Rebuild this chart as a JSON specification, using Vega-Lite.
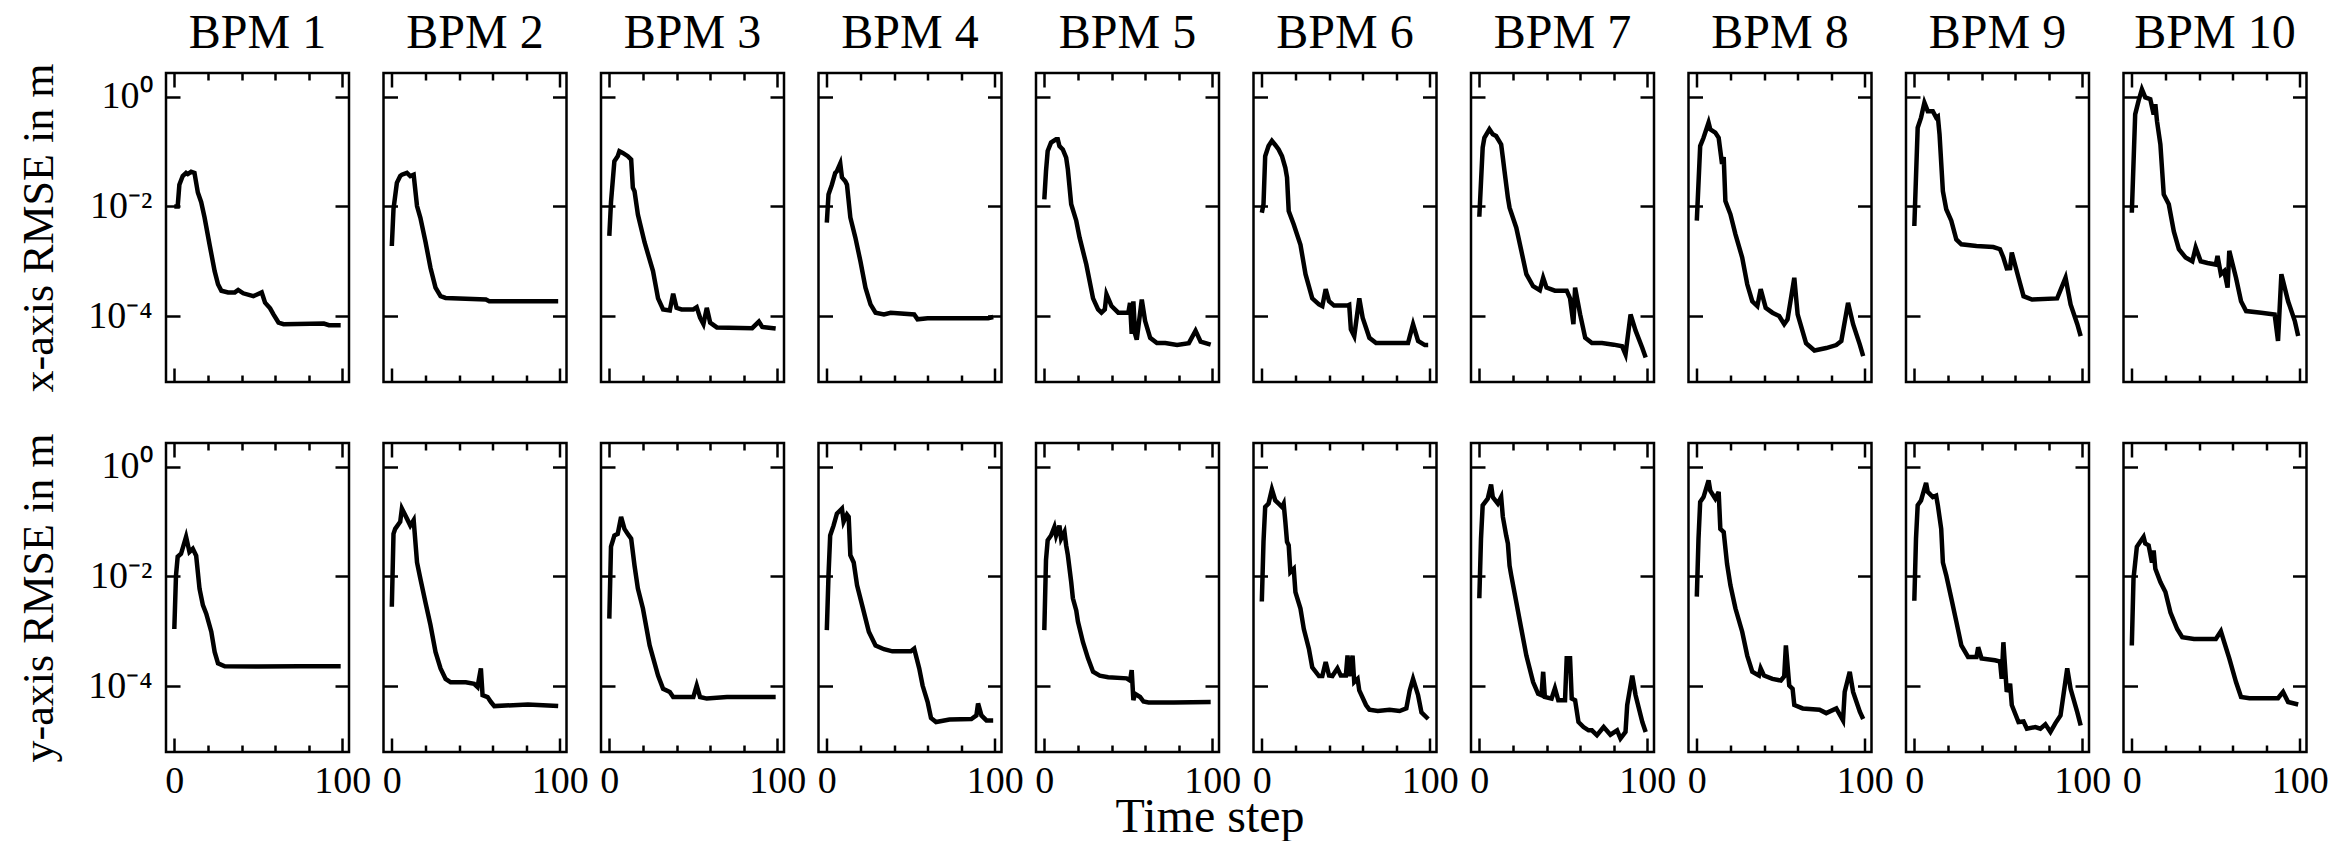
{
"$schema": "https://vega.github.io/schema/vega-lite/v6.json",
"padding": {"left": 16, "top": 8, "right": 0, "bottom": 0},
"background": "white",
"title": {"text": "Time step", "orient": "bottom", "anchor": "middle", "baseline": "alphabetic", "offset": 24, "dx": 37, "fontSize": 48, "frame": "bounds"},
"data": {"values": [
{"axis":"x","bpm":1,"step":0,"rmse":0.01},{"axis":"x","bpm":1,"step":2,"rmse":0.01},{"axis":"x","bpm":1,"step":3,"rmse":0.025},{"axis":"x","bpm":1,"step":5,"rmse":0.036},{"axis":"x","bpm":1,"step":7,"rmse":0.041},{"axis":"x","bpm":1,"step":8,"rmse":0.039},{"axis":"x","bpm":1,"step":10,"rmse":0.043},{"axis":"x","bpm":1,"step":12,"rmse":0.041},{"axis":"x","bpm":1,"step":14,"rmse":0.018},{"axis":"x","bpm":1,"step":16,"rmse":0.012},{"axis":"x","bpm":1,"step":18,"rmse":0.0063},{"axis":"x","bpm":1,"step":21,"rmse":0.002},{"axis":"x","bpm":1,"step":24,"rmse":0.00066},{"axis":"x","bpm":1,"step":26,"rmse":0.00038},{"axis":"x","bpm":1,"step":28,"rmse":0.00029},{"axis":"x","bpm":1,"step":32,"rmse":0.00027},{"axis":"x","bpm":1,"step":36,"rmse":0.00027},{"axis":"x","bpm":1,"step":38,"rmse":0.0003},{"axis":"x","bpm":1,"step":41,"rmse":0.00026},{"axis":"x","bpm":1,"step":47,"rmse":0.00023},{"axis":"x","bpm":1,"step":52,"rmse":0.00027},{"axis":"x","bpm":1,"step":54,"rmse":0.000175},{"axis":"x","bpm":1,"step":57,"rmse":0.000138},{"axis":"x","bpm":1,"step":59,"rmse":0.000107},{"axis":"x","bpm":1,"step":62,"rmse":0.000076},{"axis":"x","bpm":1,"step":65,"rmse":0.000071},{"axis":"x","bpm":1,"step":89,"rmse":0.000073},{"axis":"x","bpm":1,"step":92,"rmse":0.000068},{"axis":"x","bpm":1,"step":99,"rmse":0.000068},
{"axis":"x","bpm":2,"step":0,"rmse":0.0019},{"axis":"x","bpm":2,"step":1,"rmse":0.009},{"axis":"x","bpm":2,"step":3,"rmse":0.027},{"axis":"x","bpm":2,"step":5,"rmse":0.036},{"axis":"x","bpm":2,"step":6,"rmse":0.038},{"axis":"x","bpm":2,"step":9,"rmse":0.041},{"axis":"x","bpm":2,"step":11,"rmse":0.036},{"axis":"x","bpm":2,"step":13,"rmse":0.038},{"axis":"x","bpm":2,"step":15,"rmse":0.0102},{"axis":"x","bpm":2,"step":17,"rmse":0.0062},{"axis":"x","bpm":2,"step":20,"rmse":0.0023},{"axis":"x","bpm":2,"step":23,"rmse":0.00076},{"axis":"x","bpm":2,"step":26,"rmse":0.00033},{"axis":"x","bpm":2,"step":29,"rmse":0.00023},{"axis":"x","bpm":2,"step":32,"rmse":0.000214},{"axis":"x","bpm":2,"step":56,"rmse":0.0002},{"axis":"x","bpm":2,"step":58,"rmse":0.000186},{"axis":"x","bpm":2,"step":99,"rmse":0.000186},
{"axis":"x","bpm":3,"step":0,"rmse":0.0029},{"axis":"x","bpm":3,"step":1,"rmse":0.012},{"axis":"x","bpm":3,"step":3,"rmse":0.067},{"axis":"x","bpm":3,"step":5,"rmse":0.083},{"axis":"x","bpm":3,"step":6,"rmse":0.102},{"axis":"x","bpm":3,"step":8,"rmse":0.095},{"axis":"x","bpm":3,"step":11,"rmse":0.083},{"axis":"x","bpm":3,"step":13,"rmse":0.072},{"axis":"x","bpm":3,"step":14,"rmse":0.022},{"axis":"x","bpm":3,"step":15,"rmse":0.019},{"axis":"x","bpm":3,"step":17,"rmse":0.0071},{"axis":"x","bpm":3,"step":21,"rmse":0.0022},{"axis":"x","bpm":3,"step":26,"rmse":0.00066},{"axis":"x","bpm":3,"step":29,"rmse":0.00021},{"axis":"x","bpm":3,"step":32,"rmse":0.000132},{"axis":"x","bpm":3,"step":36,"rmse":0.000126},{"axis":"x","bpm":3,"step":38,"rmse":0.000256},{"axis":"x","bpm":3,"step":40,"rmse":0.000141},{"axis":"x","bpm":3,"step":43,"rmse":0.000132},{"axis":"x","bpm":3,"step":50,"rmse":0.000132},{"axis":"x","bpm":3,"step":52,"rmse":0.000145},{"axis":"x","bpm":3,"step":54,"rmse":0.000093},{"axis":"x","bpm":3,"step":56,"rmse":0.000071},{"axis":"x","bpm":3,"step":58,"rmse":0.000141},{"axis":"x","bpm":3,"step":60,"rmse":0.000076},{"axis":"x","bpm":3,"step":64,"rmse":0.000062},{"axis":"x","bpm":3,"step":85,"rmse":0.00006},{"axis":"x","bpm":3,"step":89,"rmse":0.000079},{"axis":"x","bpm":3,"step":91,"rmse":0.000063},{"axis":"x","bpm":3,"step":99,"rmse":0.000059},
{"axis":"x","bpm":4,"step":0,"rmse":0.0051},{"axis":"x","bpm":4,"step":1,"rmse":0.0166},{"axis":"x","bpm":4,"step":3,"rmse":0.025},{"axis":"x","bpm":4,"step":5,"rmse":0.041},{"axis":"x","bpm":4,"step":6,"rmse":0.044},{"axis":"x","bpm":4,"step":8,"rmse":0.061},{"axis":"x","bpm":4,"step":9,"rmse":0.034},{"axis":"x","bpm":4,"step":11,"rmse":0.029},{"axis":"x","bpm":4,"step":12,"rmse":0.025},{"axis":"x","bpm":4,"step":14,"rmse":0.0063},{"axis":"x","bpm":4,"step":17,"rmse":0.0027},{"axis":"x","bpm":4,"step":20,"rmse":0.001},{"axis":"x","bpm":4,"step":23,"rmse":0.00033},{"axis":"x","bpm":4,"step":26,"rmse":0.000163},{"axis":"x","bpm":4,"step":29,"rmse":0.000115},{"axis":"x","bpm":4,"step":34,"rmse":0.000107},{"axis":"x","bpm":4,"step":38,"rmse":0.000115},{"axis":"x","bpm":4,"step":52,"rmse":0.000107},{"axis":"x","bpm":4,"step":54,"rmse":0.000087},{"axis":"x","bpm":4,"step":60,"rmse":0.000091},{"axis":"x","bpm":4,"step":96,"rmse":0.000091},{"axis":"x","bpm":4,"step":99,"rmse":0.000096},
{"axis":"x","bpm":5,"step":0,"rmse":0.0135},{"axis":"x","bpm":5,"step":1,"rmse":0.044},{"axis":"x","bpm":5,"step":2,"rmse":0.103},{"axis":"x","bpm":5,"step":4,"rmse":0.147},{"axis":"x","bpm":5,"step":7,"rmse":0.169},{"axis":"x","bpm":5,"step":8,"rmse":0.169},{"axis":"x","bpm":5,"step":9,"rmse":0.127},{"axis":"x","bpm":5,"step":11,"rmse":0.11},{"axis":"x","bpm":5,"step":13,"rmse":0.078},{"axis":"x","bpm":5,"step":14,"rmse":0.048},{"axis":"x","bpm":5,"step":16,"rmse":0.011},{"axis":"x","bpm":5,"step":19,"rmse":0.0055},{"axis":"x","bpm":5,"step":21,"rmse":0.0027},{"axis":"x","bpm":5,"step":25,"rmse":0.00087},{"axis":"x","bpm":5,"step":29,"rmse":0.00021},{"axis":"x","bpm":5,"step":32,"rmse":0.000132},{"axis":"x","bpm":5,"step":34,"rmse":0.000115},{"axis":"x","bpm":5,"step":36,"rmse":0.000132},{"axis":"x","bpm":5,"step":37,"rmse":0.00025},{"axis":"x","bpm":5,"step":40,"rmse":0.000152},{"axis":"x","bpm":5,"step":44,"rmse":0.000115},{"axis":"x","bpm":5,"step":50,"rmse":0.000115},{"axis":"x","bpm":5,"step":51,"rmse":0.000174},{"axis":"x","bpm":5,"step":52,"rmse":0.000047},{"axis":"x","bpm":5,"step":53,"rmse":0.000186},{"axis":"x","bpm":5,"step":54,"rmse":0.000047},{"axis":"x","bpm":5,"step":55,"rmse":0.000037},{"axis":"x","bpm":5,"step":58,"rmse":0.0002},{"axis":"x","bpm":5,"step":60,"rmse":0.000081},{"axis":"x","bpm":5,"step":63,"rmse":0.00004},{"axis":"x","bpm":5,"step":67,"rmse":0.000032},{"axis":"x","bpm":5,"step":72,"rmse":0.000032},{"axis":"x","bpm":5,"step":79,"rmse":0.0000295},{"axis":"x","bpm":5,"step":86,"rmse":0.000032},{"axis":"x","bpm":5,"step":90,"rmse":0.000054},{"axis":"x","bpm":5,"step":93,"rmse":0.000034},{"axis":"x","bpm":5,"step":99,"rmse":0.00003},
{"axis":"x","bpm":6,"step":0,"rmse":0.0077},{"axis":"x","bpm":6,"step":1,"rmse":0.011},{"axis":"x","bpm":6,"step":2,"rmse":0.083},{"axis":"x","bpm":6,"step":4,"rmse":0.127},{"axis":"x","bpm":6,"step":6,"rmse":0.158},{"axis":"x","bpm":6,"step":8,"rmse":0.133},{"axis":"x","bpm":6,"step":10,"rmse":0.11},{"axis":"x","bpm":6,"step":12,"rmse":0.083},{"axis":"x","bpm":6,"step":14,"rmse":0.051},{"axis":"x","bpm":6,"step":15,"rmse":0.034},{"axis":"x","bpm":6,"step":16,"rmse":0.0083},{"axis":"x","bpm":6,"step":19,"rmse":0.0047},{"axis":"x","bpm":6,"step":23,"rmse":0.002},{"axis":"x","bpm":6,"step":26,"rmse":0.00058},{"axis":"x","bpm":6,"step":30,"rmse":0.00021},{"axis":"x","bpm":6,"step":34,"rmse":0.000163},{"axis":"x","bpm":6,"step":36,"rmse":0.000152},{"axis":"x","bpm":6,"step":38,"rmse":0.00031},{"axis":"x","bpm":6,"step":40,"rmse":0.000186},{"axis":"x","bpm":6,"step":43,"rmse":0.000155},{"axis":"x","bpm":6,"step":51,"rmse":0.000155},{"axis":"x","bpm":6,"step":52,"rmse":0.00016},{"axis":"x","bpm":6,"step":53,"rmse":0.000057},{"axis":"x","bpm":6,"step":55,"rmse":0.000043},{"axis":"x","bpm":6,"step":58,"rmse":0.00021},{"axis":"x","bpm":6,"step":60,"rmse":0.000093},{"axis":"x","bpm":6,"step":64,"rmse":0.00004},{"axis":"x","bpm":6,"step":68,"rmse":0.000032},{"axis":"x","bpm":6,"step":76,"rmse":0.000032},{"axis":"x","bpm":6,"step":87,"rmse":0.000032},{"axis":"x","bpm":6,"step":90,"rmse":0.000071},{"axis":"x","bpm":6,"step":93,"rmse":0.000035},{"axis":"x","bpm":6,"step":97,"rmse":0.0000295},{"axis":"x","bpm":6,"step":99,"rmse":0.0000295},
{"axis":"x","bpm":7,"step":0,"rmse":0.0065},{"axis":"x","bpm":7,"step":2,"rmse":0.119},{"axis":"x","bpm":7,"step":3,"rmse":0.18},{"axis":"x","bpm":7,"step":6,"rmse":0.257},{"axis":"x","bpm":7,"step":8,"rmse":0.209},{"axis":"x","bpm":7,"step":10,"rmse":0.194},{"axis":"x","bpm":7,"step":13,"rmse":0.136},{"axis":"x","bpm":7,"step":14,"rmse":0.078},{"axis":"x","bpm":7,"step":15,"rmse":0.044},{"axis":"x","bpm":7,"step":17,"rmse":0.0145},{"axis":"x","bpm":7,"step":18,"rmse":0.0095},{"axis":"x","bpm":7,"step":22,"rmse":0.0041},{"axis":"x","bpm":7,"step":25,"rmse":0.00155},{"axis":"x","bpm":7,"step":28,"rmse":0.00058},{"axis":"x","bpm":7,"step":32,"rmse":0.00035},{"axis":"x","bpm":7,"step":36,"rmse":0.000295},{"axis":"x","bpm":7,"step":38,"rmse":0.0005},{"axis":"x","bpm":7,"step":40,"rmse":0.00033},{"axis":"x","bpm":7,"step":45,"rmse":0.00029},{"axis":"x","bpm":7,"step":52,"rmse":0.00029},{"axis":"x","bpm":7,"step":54,"rmse":0.00021},{"axis":"x","bpm":7,"step":56,"rmse":0.000071},{"axis":"x","bpm":7,"step":57,"rmse":0.00033},{"axis":"x","bpm":7,"step":60,"rmse":0.000107},{"axis":"x","bpm":7,"step":63,"rmse":0.00004},{"axis":"x","bpm":7,"step":67,"rmse":0.000032},{"axis":"x","bpm":7,"step":73,"rmse":0.000032},{"axis":"x","bpm":7,"step":80,"rmse":0.00003},{"axis":"x","bpm":7,"step":85,"rmse":0.000028},{"axis":"x","bpm":7,"step":87,"rmse":0.00002},{"axis":"x","bpm":7,"step":90,"rmse":0.000107},{"axis":"x","bpm":7,"step":93,"rmse":0.000054},{"axis":"x","bpm":7,"step":97,"rmse":0.000026},{"axis":"x","bpm":7,"step":99,"rmse":0.0000174},
{"axis":"x","bpm":8,"step":0,"rmse":0.0055},{"axis":"x","bpm":8,"step":2,"rmse":0.127},{"axis":"x","bpm":8,"step":4,"rmse":0.18},{"axis":"x","bpm":8,"step":7,"rmse":0.34},{"axis":"x","bpm":8,"step":8,"rmse":0.257},{"axis":"x","bpm":8,"step":11,"rmse":0.224},{"axis":"x","bpm":8,"step":13,"rmse":0.18},{"axis":"x","bpm":8,"step":15,"rmse":0.06},{"axis":"x","bpm":8,"step":16,"rmse":0.08},{"axis":"x","bpm":8,"step":17,"rmse":0.0126},{"axis":"x","bpm":8,"step":20,"rmse":0.0072},{"axis":"x","bpm":8,"step":23,"rmse":0.0031},{"axis":"x","bpm":8,"step":27,"rmse":0.00117},{"axis":"x","bpm":8,"step":30,"rmse":0.00038},{"axis":"x","bpm":8,"step":33,"rmse":0.000186},{"axis":"x","bpm":8,"step":36,"rmse":0.000152},{"axis":"x","bpm":8,"step":38,"rmse":0.00031},{"axis":"x","bpm":8,"step":41,"rmse":0.000141},{"axis":"x","bpm":8,"step":45,"rmse":0.000115},{"axis":"x","bpm":8,"step":49,"rmse":0.0001},{"axis":"x","bpm":8,"step":52,"rmse":0.000071},{"axis":"x","bpm":8,"step":54,"rmse":0.000087},{"axis":"x","bpm":8,"step":58,"rmse":0.0005},{"axis":"x","bpm":8,"step":60,"rmse":0.000107},{"axis":"x","bpm":8,"step":65,"rmse":0.000032},{"axis":"x","bpm":8,"step":70,"rmse":0.0000235},{"axis":"x","bpm":8,"step":77,"rmse":0.000026},{"axis":"x","bpm":8,"step":83,"rmse":0.0000295},{"axis":"x","bpm":8,"step":86,"rmse":0.000035},{"axis":"x","bpm":8,"step":90,"rmse":0.000174},{"axis":"x","bpm":8,"step":93,"rmse":0.000071},{"axis":"x","bpm":8,"step":97,"rmse":0.00003},{"axis":"x","bpm":8,"step":99,"rmse":0.0000186},
{"axis":"x","bpm":9,"step":0,"rmse":0.0044},{"axis":"x","bpm":9,"step":2,"rmse":0.275},{"axis":"x","bpm":9,"step":4,"rmse":0.42},{"axis":"x","bpm":9,"step":6,"rmse":0.79},{"axis":"x","bpm":9,"step":8,"rmse":0.55},{"axis":"x","bpm":9,"step":11,"rmse":0.55},{"axis":"x","bpm":9,"step":13,"rmse":0.42},{"axis":"x","bpm":9,"step":14,"rmse":0.44},{"axis":"x","bpm":9,"step":15,"rmse":0.209},{"axis":"x","bpm":9,"step":17,"rmse":0.019},{"axis":"x","bpm":9,"step":19,"rmse":0.0089},{"axis":"x","bpm":9,"step":22,"rmse":0.0055},{"axis":"x","bpm":9,"step":25,"rmse":0.0025},{"axis":"x","bpm":9,"step":28,"rmse":0.00204},{"axis":"x","bpm":9,"step":37,"rmse":0.0019},{"axis":"x","bpm":9,"step":47,"rmse":0.00182},{"axis":"x","bpm":9,"step":51,"rmse":0.00166},{"axis":"x","bpm":9,"step":53,"rmse":0.00117},{"axis":"x","bpm":9,"step":55,"rmse":0.00074},{"axis":"x","bpm":9,"step":57,"rmse":0.00075},{"axis":"x","bpm":9,"step":58,"rmse":0.00144},{"axis":"x","bpm":9,"step":62,"rmse":0.0005},{"axis":"x","bpm":9,"step":65,"rmse":0.00023},{"axis":"x","bpm":9,"step":70,"rmse":0.0002},{"axis":"x","bpm":9,"step":85,"rmse":0.00021},{"axis":"x","bpm":9,"step":90,"rmse":0.0005},{"axis":"x","bpm":9,"step":93,"rmse":0.000163},{"axis":"x","bpm":9,"step":97,"rmse":0.000071},{"axis":"x","bpm":9,"step":99,"rmse":0.000043},
{"axis":"x","bpm":10,"step":0,"rmse":0.0077},{"axis":"x","bpm":10,"step":2,"rmse":0.48},{"axis":"x","bpm":10,"step":4,"rmse":0.85},{"axis":"x","bpm":10,"step":6,"rmse":1.38},{"axis":"x","bpm":10,"step":8,"rmse":0.98},{"axis":"x","bpm":10,"step":11,"rmse":0.91},{"axis":"x","bpm":10,"step":13,"rmse":0.48},{"axis":"x","bpm":10,"step":14,"rmse":0.74},{"axis":"x","bpm":10,"step":15,"rmse":0.36},{"axis":"x","bpm":10,"step":17,"rmse":0.136},{"axis":"x","bpm":10,"step":19,"rmse":0.0166},{"axis":"x","bpm":10,"step":22,"rmse":0.011},{"axis":"x","bpm":10,"step":25,"rmse":0.0035},{"axis":"x","bpm":10,"step":28,"rmse":0.00166},{"axis":"x","bpm":10,"step":32,"rmse":0.00117},{"axis":"x","bpm":10,"step":36,"rmse":0.001},{"axis":"x","bpm":10,"step":38,"rmse":0.00178},{"axis":"x","bpm":10,"step":41,"rmse":0.001},{"axis":"x","bpm":10,"step":45,"rmse":0.00093},{"axis":"x","bpm":10,"step":50,"rmse":0.00087},{"axis":"x","bpm":10,"step":51,"rmse":0.00125},{"axis":"x","bpm":10,"step":53,"rmse":0.00058},{"axis":"x","bpm":10,"step":55,"rmse":0.00066},{"axis":"x","bpm":10,"step":57,"rmse":0.00033},{"axis":"x","bpm":10,"step":58,"rmse":0.00155},{"axis":"x","bpm":10,"step":62,"rmse":0.0005},{"axis":"x","bpm":10,"step":65,"rmse":0.000186},{"axis":"x","bpm":10,"step":68,"rmse":0.000123},{"axis":"x","bpm":10,"step":77,"rmse":0.000115},{"axis":"x","bpm":10,"step":85,"rmse":0.000107},{"axis":"x","bpm":10,"step":87,"rmse":0.000035},{"axis":"x","bpm":10,"step":89,"rmse":0.00058},{"axis":"x","bpm":10,"step":93,"rmse":0.000186},{"axis":"x","bpm":10,"step":97,"rmse":0.000081},{"axis":"x","bpm":10,"step":99,"rmse":0.000043},
{"axis":"y","bpm":1,"step":0,"rmse":0.0011},{"axis":"y","bpm":1,"step":1,"rmse":0.0105},{"axis":"y","bpm":1,"step":2,"rmse":0.023},{"axis":"y","bpm":1,"step":4,"rmse":0.026},{"axis":"y","bpm":1,"step":7,"rmse":0.053},{"axis":"y","bpm":1,"step":9,"rmse":0.028},{"axis":"y","bpm":1,"step":11,"rmse":0.032},{"axis":"y","bpm":1,"step":13,"rmse":0.024},{"axis":"y","bpm":1,"step":15,"rmse":0.006},{"axis":"y","bpm":1,"step":17,"rmse":0.003},{"axis":"y","bpm":1,"step":19,"rmse":0.0021},{"axis":"y","bpm":1,"step":22,"rmse":0.00098},{"axis":"y","bpm":1,"step":24,"rmse":0.00042},{"axis":"y","bpm":1,"step":26,"rmse":0.00026},{"axis":"y","bpm":1,"step":30,"rmse":0.00023},{"axis":"y","bpm":1,"step":50,"rmse":0.000228},{"axis":"y","bpm":1,"step":75,"rmse":0.00023},{"axis":"y","bpm":1,"step":99,"rmse":0.00023},
{"axis":"y","bpm":2,"step":0,"rmse":0.0028},{"axis":"y","bpm":2,"step":1,"rmse":0.06},{"axis":"y","bpm":2,"step":2,"rmse":0.074},{"axis":"y","bpm":2,"step":5,"rmse":0.1},{"axis":"y","bpm":2,"step":6,"rmse":0.174},{"axis":"y","bpm":2,"step":9,"rmse":0.114},{"axis":"y","bpm":2,"step":11,"rmse":0.085},{"axis":"y","bpm":2,"step":13,"rmse":0.107},{"axis":"y","bpm":2,"step":15,"rmse":0.018},{"axis":"y","bpm":2,"step":17,"rmse":0.0091},{"axis":"y","bpm":2,"step":20,"rmse":0.0034},{"axis":"y","bpm":2,"step":23,"rmse":0.0013},{"axis":"y","bpm":2,"step":26,"rmse":0.00042},{"axis":"y","bpm":2,"step":29,"rmse":0.00021},{"axis":"y","bpm":2,"step":32,"rmse":0.000135},{"axis":"y","bpm":2,"step":35,"rmse":0.000117},{"axis":"y","bpm":2,"step":44,"rmse":0.000117},{"axis":"y","bpm":2,"step":49,"rmse":0.00011},{"axis":"y","bpm":2,"step":51,"rmse":0.000096},{"axis":"y","bpm":2,"step":53,"rmse":0.00021},{"axis":"y","bpm":2,"step":54,"rmse":0.000068},{"axis":"y","bpm":2,"step":57,"rmse":0.000063},{"axis":"y","bpm":2,"step":59,"rmse":0.000051},{"axis":"y","bpm":2,"step":61,"rmse":0.000043},{"axis":"y","bpm":2,"step":81,"rmse":0.000046},{"axis":"y","bpm":2,"step":99,"rmse":0.000043},
{"axis":"y","bpm":3,"step":0,"rmse":0.0017},{"axis":"y","bpm":3,"step":1,"rmse":0.035},{"axis":"y","bpm":3,"step":3,"rmse":0.056},{"axis":"y","bpm":3,"step":5,"rmse":0.06},{"axis":"y","bpm":3,"step":7,"rmse":0.123},{"axis":"y","bpm":3,"step":9,"rmse":0.074},{"axis":"y","bpm":3,"step":11,"rmse":0.06},{"axis":"y","bpm":3,"step":13,"rmse":0.049},{"axis":"y","bpm":3,"step":15,"rmse":0.0158},{"axis":"y","bpm":3,"step":17,"rmse":0.006},{"axis":"y","bpm":3,"step":20,"rmse":0.0026},{"axis":"y","bpm":3,"step":24,"rmse":0.00055},{"axis":"y","bpm":3,"step":29,"rmse":0.000155},{"axis":"y","bpm":3,"step":32,"rmse":0.000089},{"axis":"y","bpm":3,"step":36,"rmse":0.000078},{"axis":"y","bpm":3,"step":38,"rmse":0.000063},{"axis":"y","bpm":3,"step":50,"rmse":0.000063},{"axis":"y","bpm":3,"step":52,"rmse":0.000102},{"axis":"y","bpm":3,"step":54,"rmse":0.000063},{"axis":"y","bpm":3,"step":58,"rmse":0.000059},{"axis":"y","bpm":3,"step":70,"rmse":0.000063},{"axis":"y","bpm":3,"step":99,"rmse":0.000063},
{"axis":"y","bpm":4,"step":0,"rmse":0.00105},{"axis":"y","bpm":4,"step":1,"rmse":0.0105},{"axis":"y","bpm":4,"step":2,"rmse":0.056},{"axis":"y","bpm":4,"step":4,"rmse":0.085},{"axis":"y","bpm":4,"step":6,"rmse":0.141},{"axis":"y","bpm":4,"step":8,"rmse":0.162},{"axis":"y","bpm":4,"step":9,"rmse":0.174},{"axis":"y","bpm":4,"step":10,"rmse":0.1},{"axis":"y","bpm":4,"step":12,"rmse":0.135},{"axis":"y","bpm":4,"step":13,"rmse":0.123},{"axis":"y","bpm":4,"step":14,"rmse":0.0245},{"axis":"y","bpm":4,"step":16,"rmse":0.018},{"axis":"y","bpm":4,"step":18,"rmse":0.0069},{"axis":"y","bpm":4,"step":21,"rmse":0.003},{"axis":"y","bpm":4,"step":25,"rmse":0.00098},{"axis":"y","bpm":4,"step":29,"rmse":0.00055},{"axis":"y","bpm":4,"step":34,"rmse":0.00047},{"axis":"y","bpm":4,"step":39,"rmse":0.00043},{"axis":"y","bpm":4,"step":50,"rmse":0.00043},{"axis":"y","bpm":4,"step":52,"rmse":0.00048},{"axis":"y","bpm":4,"step":55,"rmse":0.00021},{"axis":"y","bpm":4,"step":57,"rmse":0.000102},{"axis":"y","bpm":4,"step":60,"rmse":0.000051},{"axis":"y","bpm":4,"step":62,"rmse":0.000026},{"axis":"y","bpm":4,"step":65,"rmse":0.000022},{"axis":"y","bpm":4,"step":73,"rmse":0.0000245},{"axis":"y","bpm":4,"step":86,"rmse":0.000025},{"axis":"y","bpm":4,"step":89,"rmse":0.000029},{"axis":"y","bpm":4,"step":90,"rmse":0.000048},{"axis":"y","bpm":4,"step":92,"rmse":0.000029},{"axis":"y","bpm":4,"step":95,"rmse":0.0000235},{"axis":"y","bpm":4,"step":99,"rmse":0.0000235},
{"axis":"y","bpm":5,"step":0,"rmse":0.00105},{"axis":"y","bpm":5,"step":1,"rmse":0.02},{"axis":"y","bpm":5,"step":2,"rmse":0.046},{"axis":"y","bpm":5,"step":4,"rmse":0.056},{"axis":"y","bpm":5,"step":6,"rmse":0.08},{"axis":"y","bpm":5,"step":7,"rmse":0.056},{"axis":"y","bpm":5,"step":9,"rmse":0.085},{"axis":"y","bpm":5,"step":10,"rmse":0.049},{"axis":"y","bpm":5,"step":12,"rmse":0.065},{"axis":"y","bpm":5,"step":13,"rmse":0.037},{"axis":"y","bpm":5,"step":14,"rmse":0.0245},{"axis":"y","bpm":5,"step":16,"rmse":0.0079},{"axis":"y","bpm":5,"step":17,"rmse":0.004},{"axis":"y","bpm":5,"step":19,"rmse":0.0024},{"axis":"y","bpm":5,"step":20,"rmse":0.0015},{"axis":"y","bpm":5,"step":23,"rmse":0.00063},{"axis":"y","bpm":5,"step":26,"rmse":0.00032},{"axis":"y","bpm":5,"step":29,"rmse":0.000182},{"axis":"y","bpm":5,"step":33,"rmse":0.000155},{"axis":"y","bpm":5,"step":38,"rmse":0.000145},{"axis":"y","bpm":5,"step":49,"rmse":0.000138},{"axis":"y","bpm":5,"step":51,"rmse":0.000126},{"axis":"y","bpm":5,"step":52,"rmse":0.000195},{"axis":"y","bpm":5,"step":53,"rmse":0.000055},{"axis":"y","bpm":5,"step":54,"rmse":0.000072},{"axis":"y","bpm":5,"step":57,"rmse":0.000063},{"axis":"y","bpm":5,"step":59,"rmse":0.000052},{"axis":"y","bpm":5,"step":62,"rmse":0.00005},{"axis":"y","bpm":5,"step":77,"rmse":0.00005},{"axis":"y","bpm":5,"step":99,"rmse":0.000051},
{"axis":"y","bpm":6,"step":0,"rmse":0.0035},{"axis":"y","bpm":6,"step":1,"rmse":0.043},{"axis":"y","bpm":6,"step":2,"rmse":0.186},{"axis":"y","bpm":6,"step":4,"rmse":0.214},{"axis":"y","bpm":6,"step":6,"rmse":0.39},{"axis":"y","bpm":6,"step":8,"rmse":0.245},{"axis":"y","bpm":6,"step":10,"rmse":0.214},{"axis":"y","bpm":6,"step":12,"rmse":0.186},{"axis":"y","bpm":6,"step":13,"rmse":0.214},{"axis":"y","bpm":6,"step":14,"rmse":0.1},{"axis":"y","bpm":6,"step":15,"rmse":0.043},{"axis":"y","bpm":6,"step":16,"rmse":0.037},{"axis":"y","bpm":6,"step":17,"rmse":0.012},{"axis":"y","bpm":6,"step":19,"rmse":0.0138},{"axis":"y","bpm":6,"step":20,"rmse":0.0052},{"axis":"y","bpm":6,"step":23,"rmse":0.0026},{"axis":"y","bpm":6,"step":25,"rmse":0.0011},{"axis":"y","bpm":6,"step":28,"rmse":0.00048},{"axis":"y","bpm":6,"step":30,"rmse":0.00022},{"axis":"y","bpm":6,"step":34,"rmse":0.000152},{"axis":"y","bpm":6,"step":36,"rmse":0.000152},{"axis":"y","bpm":6,"step":38,"rmse":0.000275},{"axis":"y","bpm":6,"step":40,"rmse":0.000155},{"axis":"y","bpm":6,"step":42,"rmse":0.000152},{"axis":"y","bpm":6,"step":45,"rmse":0.00021},{"axis":"y","bpm":6,"step":47,"rmse":0.000155},{"axis":"y","bpm":6,"step":50,"rmse":0.000155},{"axis":"y","bpm":6,"step":51,"rmse":0.00036},{"axis":"y","bpm":6,"step":52,"rmse":0.000152},{"axis":"y","bpm":6,"step":54,"rmse":0.00036},{"axis":"y","bpm":6,"step":55,"rmse":0.000118},{"axis":"y","bpm":6,"step":57,"rmse":0.000135},{"axis":"y","bpm":6,"step":58,"rmse":0.000083},{"axis":"y","bpm":6,"step":62,"rmse":0.000045},{"axis":"y","bpm":6,"step":64,"rmse":0.000037},{"axis":"y","bpm":6,"step":69,"rmse":0.000035},{"axis":"y","bpm":6,"step":76,"rmse":0.000037},{"axis":"y","bpm":6,"step":82,"rmse":0.000035},{"axis":"y","bpm":6,"step":86,"rmse":0.000039},{"axis":"y","bpm":6,"step":88,"rmse":0.000083},{"axis":"y","bpm":6,"step":90,"rmse":0.000135},{"axis":"y","bpm":6,"step":93,"rmse":0.000068},{"axis":"y","bpm":6,"step":95,"rmse":0.000033},{"axis":"y","bpm":6,"step":99,"rmse":0.000025},
{"axis":"y","bpm":7,"step":0,"rmse":0.004},{"axis":"y","bpm":7,"step":1,"rmse":0.049},{"axis":"y","bpm":7,"step":2,"rmse":0.2},{"axis":"y","bpm":7,"step":5,"rmse":0.263},{"axis":"y","bpm":7,"step":7,"rmse":0.48},{"axis":"y","bpm":7,"step":8,"rmse":0.282},{"axis":"y","bpm":7,"step":11,"rmse":0.214},{"axis":"y","bpm":7,"step":13,"rmse":0.282},{"axis":"y","bpm":7,"step":14,"rmse":0.123},{"axis":"y","bpm":7,"step":16,"rmse":0.056},{"axis":"y","bpm":7,"step":17,"rmse":0.04},{"axis":"y","bpm":7,"step":18,"rmse":0.0158},{"axis":"y","bpm":7,"step":19,"rmse":0.0105},{"axis":"y","bpm":7,"step":22,"rmse":0.0034},{"axis":"y","bpm":7,"step":25,"rmse":0.0011},{"axis":"y","bpm":7,"step":28,"rmse":0.00036},{"axis":"y","bpm":7,"step":32,"rmse":0.000118},{"axis":"y","bpm":7,"step":35,"rmse":0.000072},{"axis":"y","bpm":7,"step":37,"rmse":0.000068},{"axis":"y","bpm":7,"step":38,"rmse":0.000182},{"axis":"y","bpm":7,"step":39,"rmse":0.000063},{"axis":"y","bpm":7,"step":43,"rmse":0.000059},{"axis":"y","bpm":7,"step":45,"rmse":0.000091},{"axis":"y","bpm":7,"step":47,"rmse":0.000055},{"axis":"y","bpm":7,"step":51,"rmse":0.000055},{"axis":"y","bpm":7,"step":52,"rmse":0.00032},{"axis":"y","bpm":7,"step":54,"rmse":0.00032},{"axis":"y","bpm":7,"step":55,"rmse":0.000059},{"axis":"y","bpm":7,"step":57,"rmse":0.000055},{"axis":"y","bpm":7,"step":59,"rmse":0.000022},{"axis":"y","bpm":7,"step":62,"rmse":0.0000178},{"axis":"y","bpm":7,"step":65,"rmse":0.0000155},{"axis":"y","bpm":7,"step":67,"rmse":0.0000155},{"axis":"y","bpm":7,"step":70,"rmse":0.0000126},{"axis":"y","bpm":7,"step":74,"rmse":0.0000178},{"axis":"y","bpm":7,"step":78,"rmse":0.0000129},{"axis":"y","bpm":7,"step":82,"rmse":0.0000155},{"axis":"y","bpm":7,"step":84,"rmse":0.000011},{"axis":"y","bpm":7,"step":87,"rmse":0.0000145},{"axis":"y","bpm":7,"step":88,"rmse":0.000045},{"axis":"y","bpm":7,"step":91,"rmse":0.000155},{"axis":"y","bpm":7,"step":93,"rmse":0.000068},{"axis":"y","bpm":7,"step":97,"rmse":0.000022},{"axis":"y","bpm":7,"step":99,"rmse":0.0000145},
{"axis":"y","bpm":8,"step":0,"rmse":0.0043},{"axis":"y","bpm":8,"step":1,"rmse":0.049},{"axis":"y","bpm":8,"step":2,"rmse":0.23},{"axis":"y","bpm":8,"step":4,"rmse":0.282},{"axis":"y","bpm":8,"step":7,"rmse":0.57},{"axis":"y","bpm":8,"step":8,"rmse":0.37},{"axis":"y","bpm":8,"step":11,"rmse":0.263},{"axis":"y","bpm":8,"step":13,"rmse":0.35},{"axis":"y","bpm":8,"step":14,"rmse":0.074},{"axis":"y","bpm":8,"step":16,"rmse":0.065},{"axis":"y","bpm":8,"step":18,"rmse":0.017},{"axis":"y","bpm":8,"step":20,"rmse":0.0069},{"axis":"y","bpm":8,"step":23,"rmse":0.0026},{"axis":"y","bpm":8,"step":27,"rmse":0.00098},{"axis":"y","bpm":8,"step":30,"rmse":0.00036},{"axis":"y","bpm":8,"step":33,"rmse":0.000182},{"axis":"y","bpm":8,"step":37,"rmse":0.000155},{"axis":"y","bpm":8,"step":38,"rmse":0.00021},{"axis":"y","bpm":8,"step":40,"rmse":0.000155},{"axis":"y","bpm":8,"step":45,"rmse":0.000135},{"axis":"y","bpm":8,"step":50,"rmse":0.000126},{"axis":"y","bpm":8,"step":52,"rmse":0.00015},{"axis":"y","bpm":8,"step":53,"rmse":0.00055},{"axis":"y","bpm":8,"step":55,"rmse":0.000102},{"axis":"y","bpm":8,"step":57,"rmse":0.000089},{"axis":"y","bpm":8,"step":58,"rmse":0.000045},{"axis":"y","bpm":8,"step":63,"rmse":0.000039},{"axis":"y","bpm":8,"step":73,"rmse":0.000037},{"axis":"y","bpm":8,"step":77,"rmse":0.000032},{"axis":"y","bpm":8,"step":83,"rmse":0.000039},{"axis":"y","bpm":8,"step":87,"rmse":0.0000235},{"axis":"y","bpm":8,"step":88,"rmse":0.000078},{"axis":"y","bpm":8,"step":91,"rmse":0.000182},{"axis":"y","bpm":8,"step":93,"rmse":0.000078},{"axis":"y","bpm":8,"step":97,"rmse":0.000034},{"axis":"y","bpm":8,"step":99,"rmse":0.000025},
{"axis":"y","bpm":9,"step":0,"rmse":0.0036},{"axis":"y","bpm":9,"step":1,"rmse":0.049},{"axis":"y","bpm":9,"step":2,"rmse":0.2},{"axis":"y","bpm":9,"step":4,"rmse":0.245},{"axis":"y","bpm":9,"step":7,"rmse":0.51},{"axis":"y","bpm":9,"step":8,"rmse":0.35},{"axis":"y","bpm":9,"step":11,"rmse":0.282},{"axis":"y","bpm":9,"step":13,"rmse":0.3},{"axis":"y","bpm":9,"step":14,"rmse":0.2},{"axis":"y","bpm":9,"step":16,"rmse":0.074},{"axis":"y","bpm":9,"step":17,"rmse":0.018},{"axis":"y","bpm":9,"step":19,"rmse":0.0105},{"axis":"y","bpm":9,"step":22,"rmse":0.004},{"axis":"y","bpm":9,"step":25,"rmse":0.0015},{"axis":"y","bpm":9,"step":28,"rmse":0.00055},{"axis":"y","bpm":9,"step":32,"rmse":0.00034},{"axis":"y","bpm":9,"step":37,"rmse":0.00034},{"axis":"y","bpm":9,"step":38,"rmse":0.00051},{"axis":"y","bpm":9,"step":40,"rmse":0.00032},{"axis":"y","bpm":9,"step":48,"rmse":0.000295},{"axis":"y","bpm":9,"step":51,"rmse":0.00028},{"axis":"y","bpm":9,"step":52,"rmse":0.000135},{"axis":"y","bpm":9,"step":53,"rmse":0.00063},{"axis":"y","bpm":9,"step":55,"rmse":0.000078},{"axis":"y","bpm":9,"step":57,"rmse":0.00011},{"axis":"y","bpm":9,"step":58,"rmse":0.000045},{"axis":"y","bpm":9,"step":62,"rmse":0.000022},{"axis":"y","bpm":9,"step":65,"rmse":0.0000225},{"axis":"y","bpm":9,"step":67,"rmse":0.0000166},{"axis":"y","bpm":9,"step":72,"rmse":0.0000178},{"axis":"y","bpm":9,"step":75,"rmse":0.0000166},{"axis":"y","bpm":9,"step":78,"rmse":0.00002},{"axis":"y","bpm":9,"step":81,"rmse":0.0000145},{"axis":"y","bpm":9,"step":84,"rmse":0.000021},{"axis":"y","bpm":9,"step":87,"rmse":0.000029},{"axis":"y","bpm":9,"step":91,"rmse":0.00021},{"axis":"y","bpm":9,"step":93,"rmse":0.000089},{"axis":"y","bpm":9,"step":97,"rmse":0.000033},{"axis":"y","bpm":9,"step":99,"rmse":0.000019},
{"axis":"y","bpm":10,"step":0,"rmse":0.00055},{"axis":"y","bpm":10,"step":1,"rmse":0.0091},{"axis":"y","bpm":10,"step":3,"rmse":0.035},{"axis":"y","bpm":10,"step":5,"rmse":0.043},{"axis":"y","bpm":10,"step":7,"rmse":0.053},{"axis":"y","bpm":10,"step":8,"rmse":0.04},{"axis":"y","bpm":10,"step":10,"rmse":0.037},{"axis":"y","bpm":10,"step":12,"rmse":0.018},{"axis":"y","bpm":10,"step":13,"rmse":0.03},{"axis":"y","bpm":10,"step":14,"rmse":0.0138},{"axis":"y","bpm":10,"step":17,"rmse":0.0079},{"axis":"y","bpm":10,"step":20,"rmse":0.0052},{"axis":"y","bpm":10,"step":23,"rmse":0.0022},{"axis":"y","bpm":10,"step":27,"rmse":0.0011},{"axis":"y","bpm":10,"step":30,"rmse":0.00078},{"axis":"y","bpm":10,"step":37,"rmse":0.00072},{"axis":"y","bpm":10,"step":50,"rmse":0.00072},{"axis":"y","bpm":10,"step":53,"rmse":0.001},{"axis":"y","bpm":10,"step":55,"rmse":0.00063},{"axis":"y","bpm":10,"step":58,"rmse":0.00032},{"axis":"y","bpm":10,"step":62,"rmse":0.000118},{"axis":"y","bpm":10,"step":65,"rmse":0.000063},{"axis":"y","bpm":10,"step":70,"rmse":0.00006},{"axis":"y","bpm":10,"step":87,"rmse":0.00006},{"axis":"y","bpm":10,"step":90,"rmse":0.000078},{"axis":"y","bpm":10,"step":93,"rmse":0.000051},{"axis":"y","bpm":10,"step":99,"rmse":0.000046}
]},
"columns": 10,
"spacing": {"row": 61, "column": 34.5},
"bounds": "flush",
"concat": [
{"title":{"text":"BPM 1","offset":5},"width":183,"height":309,"transform":[{"filter":"datum.axis=='x'&&datum.bpm==1"}],"layer":[
{"mark":"line","encoding":{"x":{"field":"step","type":"quantitative","scale":{"domain":[-4.95,103.95],"nice":false,"zero":false},"axis":{"orient":"bottom","title":null,"values":[0,20,40,60,80,100],"tickSize":{"condition":{"test":"datum.value==0||datum.value==100","value":-14},"value":-7},"labels":false}},"y":{"field":"rmse","type":"quantitative","scale":{"type":"log","domain":[0.00000624,2.74],"nice":false},"axis":{"orient":"left","title":"x-axis RMSE in m","values":[1,0.01,0.0001],"tickSize":-14,"labelExpr":"datum.value>0.5?'10⁰':datum.value>0.005?'10⁻²':'10⁻⁴'","labelPadding":28,"labelBaseline":"middle","titlePadding":26}}}},
{"mark":{"type":"line","opacity":0},"encoding":{"x":{"field":"step","type":"quantitative","scale":{"domain":[-4.95,103.95],"nice":false,"zero":false},"axis":{"orient":"top","title":null,"values":[0,20,40,60,80,100],"tickSize":{"condition":{"test":"datum.value==0||datum.value==100","value":-14},"value":-7},"labels":false}},"y":{"field":"rmse","type":"quantitative","scale":{"type":"log","domain":[0.00000624,2.74],"nice":false},"axis":{"orient":"right","title":null,"values":[1,0.01,0.0001],"tickSize":-14,"labels":false}}}}],
"resolve":{"axis":{"x":"independent","y":"independent"}}},
{"title":"BPM 2","width":183,"height":309,"transform":[{"filter":"datum.axis=='x'&&datum.bpm==2"}],"layer":[
{"mark":"line","encoding":{"x":{"field":"step","type":"quantitative","scale":{"domain":[-4.95,103.95],"nice":false,"zero":false},"axis":{"orient":"bottom","title":null,"values":[0,20,40,60,80,100],"tickSize":{"condition":{"test":"datum.value==0||datum.value==100","value":-14},"value":-7},"labels":false}},"y":{"field":"rmse","type":"quantitative","scale":{"type":"log","domain":[0.00000624,2.74],"nice":false},"axis":{"orient":"left","title":null,"values":[1,0.01,0.0001],"tickSize":-14,"labels":false}}}},
{"mark":{"type":"line","opacity":0},"encoding":{"x":{"field":"step","type":"quantitative","scale":{"domain":[-4.95,103.95],"nice":false,"zero":false},"axis":{"orient":"top","title":null,"values":[0,20,40,60,80,100],"tickSize":{"condition":{"test":"datum.value==0||datum.value==100","value":-14},"value":-7},"labels":false}},"y":{"field":"rmse","type":"quantitative","scale":{"type":"log","domain":[0.00000624,2.74],"nice":false},"axis":{"orient":"right","title":null,"values":[1,0.01,0.0001],"tickSize":-14,"labels":false}}}}],
"resolve":{"axis":{"x":"independent","y":"independent"}}},
{"title":"BPM 3","width":183,"height":309,"transform":[{"filter":"datum.axis=='x'&&datum.bpm==3"}],"layer":[
{"mark":"line","encoding":{"x":{"field":"step","type":"quantitative","scale":{"domain":[-4.95,103.95],"nice":false,"zero":false},"axis":{"orient":"bottom","title":null,"values":[0,20,40,60,80,100],"tickSize":{"condition":{"test":"datum.value==0||datum.value==100","value":-14},"value":-7},"labels":false}},"y":{"field":"rmse","type":"quantitative","scale":{"type":"log","domain":[0.00000624,2.74],"nice":false},"axis":{"orient":"left","title":null,"values":[1,0.01,0.0001],"tickSize":-14,"labels":false}}}},
{"mark":{"type":"line","opacity":0},"encoding":{"x":{"field":"step","type":"quantitative","scale":{"domain":[-4.95,103.95],"nice":false,"zero":false},"axis":{"orient":"top","title":null,"values":[0,20,40,60,80,100],"tickSize":{"condition":{"test":"datum.value==0||datum.value==100","value":-14},"value":-7},"labels":false}},"y":{"field":"rmse","type":"quantitative","scale":{"type":"log","domain":[0.00000624,2.74],"nice":false},"axis":{"orient":"right","title":null,"values":[1,0.01,0.0001],"tickSize":-14,"labels":false}}}}],
"resolve":{"axis":{"x":"independent","y":"independent"}}},
{"title":"BPM 4","width":183,"height":309,"transform":[{"filter":"datum.axis=='x'&&datum.bpm==4"}],"layer":[
{"mark":"line","encoding":{"x":{"field":"step","type":"quantitative","scale":{"domain":[-4.95,103.95],"nice":false,"zero":false},"axis":{"orient":"bottom","title":null,"values":[0,20,40,60,80,100],"tickSize":{"condition":{"test":"datum.value==0||datum.value==100","value":-14},"value":-7},"labels":false}},"y":{"field":"rmse","type":"quantitative","scale":{"type":"log","domain":[0.00000624,2.74],"nice":false},"axis":{"orient":"left","title":null,"values":[1,0.01,0.0001],"tickSize":-14,"labels":false}}}},
{"mark":{"type":"line","opacity":0},"encoding":{"x":{"field":"step","type":"quantitative","scale":{"domain":[-4.95,103.95],"nice":false,"zero":false},"axis":{"orient":"top","title":null,"values":[0,20,40,60,80,100],"tickSize":{"condition":{"test":"datum.value==0||datum.value==100","value":-14},"value":-7},"labels":false}},"y":{"field":"rmse","type":"quantitative","scale":{"type":"log","domain":[0.00000624,2.74],"nice":false},"axis":{"orient":"right","title":null,"values":[1,0.01,0.0001],"tickSize":-14,"labels":false}}}}],
"resolve":{"axis":{"x":"independent","y":"independent"}}},
{"title":"BPM 5","width":183,"height":309,"transform":[{"filter":"datum.axis=='x'&&datum.bpm==5"}],"layer":[
{"mark":"line","encoding":{"x":{"field":"step","type":"quantitative","scale":{"domain":[-4.95,103.95],"nice":false,"zero":false},"axis":{"orient":"bottom","title":null,"values":[0,20,40,60,80,100],"tickSize":{"condition":{"test":"datum.value==0||datum.value==100","value":-14},"value":-7},"labels":false}},"y":{"field":"rmse","type":"quantitative","scale":{"type":"log","domain":[0.00000624,2.74],"nice":false},"axis":{"orient":"left","title":null,"values":[1,0.01,0.0001],"tickSize":-14,"labels":false}}}},
{"mark":{"type":"line","opacity":0},"encoding":{"x":{"field":"step","type":"quantitative","scale":{"domain":[-4.95,103.95],"nice":false,"zero":false},"axis":{"orient":"top","title":null,"values":[0,20,40,60,80,100],"tickSize":{"condition":{"test":"datum.value==0||datum.value==100","value":-14},"value":-7},"labels":false}},"y":{"field":"rmse","type":"quantitative","scale":{"type":"log","domain":[0.00000624,2.74],"nice":false},"axis":{"orient":"right","title":null,"values":[1,0.01,0.0001],"tickSize":-14,"labels":false}}}}],
"resolve":{"axis":{"x":"independent","y":"independent"}}},
{"title":"BPM 6","width":183,"height":309,"transform":[{"filter":"datum.axis=='x'&&datum.bpm==6"}],"layer":[
{"mark":"line","encoding":{"x":{"field":"step","type":"quantitative","scale":{"domain":[-4.95,103.95],"nice":false,"zero":false},"axis":{"orient":"bottom","title":null,"values":[0,20,40,60,80,100],"tickSize":{"condition":{"test":"datum.value==0||datum.value==100","value":-14},"value":-7},"labels":false}},"y":{"field":"rmse","type":"quantitative","scale":{"type":"log","domain":[0.00000624,2.74],"nice":false},"axis":{"orient":"left","title":null,"values":[1,0.01,0.0001],"tickSize":-14,"labels":false}}}},
{"mark":{"type":"line","opacity":0},"encoding":{"x":{"field":"step","type":"quantitative","scale":{"domain":[-4.95,103.95],"nice":false,"zero":false},"axis":{"orient":"top","title":null,"values":[0,20,40,60,80,100],"tickSize":{"condition":{"test":"datum.value==0||datum.value==100","value":-14},"value":-7},"labels":false}},"y":{"field":"rmse","type":"quantitative","scale":{"type":"log","domain":[0.00000624,2.74],"nice":false},"axis":{"orient":"right","title":null,"values":[1,0.01,0.0001],"tickSize":-14,"labels":false}}}}],
"resolve":{"axis":{"x":"independent","y":"independent"}}},
{"title":"BPM 7","width":183,"height":309,"transform":[{"filter":"datum.axis=='x'&&datum.bpm==7"}],"layer":[
{"mark":"line","encoding":{"x":{"field":"step","type":"quantitative","scale":{"domain":[-4.95,103.95],"nice":false,"zero":false},"axis":{"orient":"bottom","title":null,"values":[0,20,40,60,80,100],"tickSize":{"condition":{"test":"datum.value==0||datum.value==100","value":-14},"value":-7},"labels":false}},"y":{"field":"rmse","type":"quantitative","scale":{"type":"log","domain":[0.00000624,2.74],"nice":false},"axis":{"orient":"left","title":null,"values":[1,0.01,0.0001],"tickSize":-14,"labels":false}}}},
{"mark":{"type":"line","opacity":0},"encoding":{"x":{"field":"step","type":"quantitative","scale":{"domain":[-4.95,103.95],"nice":false,"zero":false},"axis":{"orient":"top","title":null,"values":[0,20,40,60,80,100],"tickSize":{"condition":{"test":"datum.value==0||datum.value==100","value":-14},"value":-7},"labels":false}},"y":{"field":"rmse","type":"quantitative","scale":{"type":"log","domain":[0.00000624,2.74],"nice":false},"axis":{"orient":"right","title":null,"values":[1,0.01,0.0001],"tickSize":-14,"labels":false}}}}],
"resolve":{"axis":{"x":"independent","y":"independent"}}},
{"title":"BPM 8","width":183,"height":309,"transform":[{"filter":"datum.axis=='x'&&datum.bpm==8"}],"layer":[
{"mark":"line","encoding":{"x":{"field":"step","type":"quantitative","scale":{"domain":[-4.95,103.95],"nice":false,"zero":false},"axis":{"orient":"bottom","title":null,"values":[0,20,40,60,80,100],"tickSize":{"condition":{"test":"datum.value==0||datum.value==100","value":-14},"value":-7},"labels":false}},"y":{"field":"rmse","type":"quantitative","scale":{"type":"log","domain":[0.00000624,2.74],"nice":false},"axis":{"orient":"left","title":null,"values":[1,0.01,0.0001],"tickSize":-14,"labels":false}}}},
{"mark":{"type":"line","opacity":0},"encoding":{"x":{"field":"step","type":"quantitative","scale":{"domain":[-4.95,103.95],"nice":false,"zero":false},"axis":{"orient":"top","title":null,"values":[0,20,40,60,80,100],"tickSize":{"condition":{"test":"datum.value==0||datum.value==100","value":-14},"value":-7},"labels":false}},"y":{"field":"rmse","type":"quantitative","scale":{"type":"log","domain":[0.00000624,2.74],"nice":false},"axis":{"orient":"right","title":null,"values":[1,0.01,0.0001],"tickSize":-14,"labels":false}}}}],
"resolve":{"axis":{"x":"independent","y":"independent"}}},
{"title":"BPM 9","width":183,"height":309,"transform":[{"filter":"datum.axis=='x'&&datum.bpm==9"}],"layer":[
{"mark":"line","encoding":{"x":{"field":"step","type":"quantitative","scale":{"domain":[-4.95,103.95],"nice":false,"zero":false},"axis":{"orient":"bottom","title":null,"values":[0,20,40,60,80,100],"tickSize":{"condition":{"test":"datum.value==0||datum.value==100","value":-14},"value":-7},"labels":false}},"y":{"field":"rmse","type":"quantitative","scale":{"type":"log","domain":[0.00000624,2.74],"nice":false},"axis":{"orient":"left","title":null,"values":[1,0.01,0.0001],"tickSize":-14,"labels":false}}}},
{"mark":{"type":"line","opacity":0},"encoding":{"x":{"field":"step","type":"quantitative","scale":{"domain":[-4.95,103.95],"nice":false,"zero":false},"axis":{"orient":"top","title":null,"values":[0,20,40,60,80,100],"tickSize":{"condition":{"test":"datum.value==0||datum.value==100","value":-14},"value":-7},"labels":false}},"y":{"field":"rmse","type":"quantitative","scale":{"type":"log","domain":[0.00000624,2.74],"nice":false},"axis":{"orient":"right","title":null,"values":[1,0.01,0.0001],"tickSize":-14,"labels":false}}}}],
"resolve":{"axis":{"x":"independent","y":"independent"}}},
{"title":"BPM 10","width":183,"height":309,"transform":[{"filter":"datum.axis=='x'&&datum.bpm==10"}],"layer":[
{"mark":"line","encoding":{"x":{"field":"step","type":"quantitative","scale":{"domain":[-4.95,103.95],"nice":false,"zero":false},"axis":{"orient":"bottom","title":null,"values":[0,20,40,60,80,100],"tickSize":{"condition":{"test":"datum.value==0||datum.value==100","value":-14},"value":-7},"labels":false}},"y":{"field":"rmse","type":"quantitative","scale":{"type":"log","domain":[0.00000624,2.74],"nice":false},"axis":{"orient":"left","title":null,"values":[1,0.01,0.0001],"tickSize":-14,"labels":false}}}},
{"mark":{"type":"line","opacity":0},"encoding":{"x":{"field":"step","type":"quantitative","scale":{"domain":[-4.95,103.95],"nice":false,"zero":false},"axis":{"orient":"top","title":null,"values":[0,20,40,60,80,100],"tickSize":{"condition":{"test":"datum.value==0||datum.value==100","value":-14},"value":-7},"labels":false}},"y":{"field":"rmse","type":"quantitative","scale":{"type":"log","domain":[0.00000624,2.74],"nice":false},"axis":{"orient":"right","title":null,"values":[1,0.01,0.0001],"tickSize":-14,"labels":false}}}}],
"resolve":{"axis":{"x":"independent","y":"independent"}}},
{"width":183,"height":309,"transform":[{"filter":"datum.axis=='y'&&datum.bpm==1"}],"layer":[
{"mark":"line","encoding":{"x":{"field":"step","type":"quantitative","scale":{"domain":[-4.95,103.95],"nice":false,"zero":false},"axis":{"orient":"bottom","title":null,"values":[0,20,40,60,80,100],"tickSize":{"condition":{"test":"datum.value==0||datum.value==100","value":-14},"value":-7},"labelExpr":"datum.value==0||datum.value==100?datum.label:''","labelPadding":24,"labelFlush":false,"labelOverlap":false}},"y":{"field":"rmse","type":"quantitative","scale":{"type":"log","domain":[0.00000624,2.74],"nice":false},"axis":{"orient":"left","title":"y-axis RMSE in m","values":[1,0.01,0.0001],"tickSize":-14,"labelExpr":"datum.value>0.5?'10⁰':datum.value>0.005?'10⁻²':'10⁻⁴'","labelPadding":28,"labelBaseline":"middle","titlePadding":26}}}},
{"mark":{"type":"line","opacity":0},"encoding":{"x":{"field":"step","type":"quantitative","scale":{"domain":[-4.95,103.95],"nice":false,"zero":false},"axis":{"orient":"top","title":null,"values":[0,20,40,60,80,100],"tickSize":{"condition":{"test":"datum.value==0||datum.value==100","value":-14},"value":-7},"labels":false}},"y":{"field":"rmse","type":"quantitative","scale":{"type":"log","domain":[0.00000624,2.74],"nice":false},"axis":{"orient":"right","title":null,"values":[1,0.01,0.0001],"tickSize":-14,"labels":false}}}}],
"resolve":{"axis":{"x":"independent","y":"independent"}}},
{"width":183,"height":309,"transform":[{"filter":"datum.axis=='y'&&datum.bpm==2"}],"layer":[
{"mark":"line","encoding":{"x":{"field":"step","type":"quantitative","scale":{"domain":[-4.95,103.95],"nice":false,"zero":false},"axis":{"orient":"bottom","title":null,"values":[0,20,40,60,80,100],"tickSize":{"condition":{"test":"datum.value==0||datum.value==100","value":-14},"value":-7},"labelExpr":"datum.value==0||datum.value==100?datum.label:''","labelPadding":24,"labelFlush":false,"labelOverlap":false}},"y":{"field":"rmse","type":"quantitative","scale":{"type":"log","domain":[0.00000624,2.74],"nice":false},"axis":{"orient":"left","title":null,"values":[1,0.01,0.0001],"tickSize":-14,"labels":false}}}},
{"mark":{"type":"line","opacity":0},"encoding":{"x":{"field":"step","type":"quantitative","scale":{"domain":[-4.95,103.95],"nice":false,"zero":false},"axis":{"orient":"top","title":null,"values":[0,20,40,60,80,100],"tickSize":{"condition":{"test":"datum.value==0||datum.value==100","value":-14},"value":-7},"labels":false}},"y":{"field":"rmse","type":"quantitative","scale":{"type":"log","domain":[0.00000624,2.74],"nice":false},"axis":{"orient":"right","title":null,"values":[1,0.01,0.0001],"tickSize":-14,"labels":false}}}}],
"resolve":{"axis":{"x":"independent","y":"independent"}}},
{"width":183,"height":309,"transform":[{"filter":"datum.axis=='y'&&datum.bpm==3"}],"layer":[
{"mark":"line","encoding":{"x":{"field":"step","type":"quantitative","scale":{"domain":[-4.95,103.95],"nice":false,"zero":false},"axis":{"orient":"bottom","title":null,"values":[0,20,40,60,80,100],"tickSize":{"condition":{"test":"datum.value==0||datum.value==100","value":-14},"value":-7},"labelExpr":"datum.value==0||datum.value==100?datum.label:''","labelPadding":24,"labelFlush":false,"labelOverlap":false}},"y":{"field":"rmse","type":"quantitative","scale":{"type":"log","domain":[0.00000624,2.74],"nice":false},"axis":{"orient":"left","title":null,"values":[1,0.01,0.0001],"tickSize":-14,"labels":false}}}},
{"mark":{"type":"line","opacity":0},"encoding":{"x":{"field":"step","type":"quantitative","scale":{"domain":[-4.95,103.95],"nice":false,"zero":false},"axis":{"orient":"top","title":null,"values":[0,20,40,60,80,100],"tickSize":{"condition":{"test":"datum.value==0||datum.value==100","value":-14},"value":-7},"labels":false}},"y":{"field":"rmse","type":"quantitative","scale":{"type":"log","domain":[0.00000624,2.74],"nice":false},"axis":{"orient":"right","title":null,"values":[1,0.01,0.0001],"tickSize":-14,"labels":false}}}}],
"resolve":{"axis":{"x":"independent","y":"independent"}}},
{"width":183,"height":309,"transform":[{"filter":"datum.axis=='y'&&datum.bpm==4"}],"layer":[
{"mark":"line","encoding":{"x":{"field":"step","type":"quantitative","scale":{"domain":[-4.95,103.95],"nice":false,"zero":false},"axis":{"orient":"bottom","title":null,"values":[0,20,40,60,80,100],"tickSize":{"condition":{"test":"datum.value==0||datum.value==100","value":-14},"value":-7},"labelExpr":"datum.value==0||datum.value==100?datum.label:''","labelPadding":24,"labelFlush":false,"labelOverlap":false}},"y":{"field":"rmse","type":"quantitative","scale":{"type":"log","domain":[0.00000624,2.74],"nice":false},"axis":{"orient":"left","title":null,"values":[1,0.01,0.0001],"tickSize":-14,"labels":false}}}},
{"mark":{"type":"line","opacity":0},"encoding":{"x":{"field":"step","type":"quantitative","scale":{"domain":[-4.95,103.95],"nice":false,"zero":false},"axis":{"orient":"top","title":null,"values":[0,20,40,60,80,100],"tickSize":{"condition":{"test":"datum.value==0||datum.value==100","value":-14},"value":-7},"labels":false}},"y":{"field":"rmse","type":"quantitative","scale":{"type":"log","domain":[0.00000624,2.74],"nice":false},"axis":{"orient":"right","title":null,"values":[1,0.01,0.0001],"tickSize":-14,"labels":false}}}}],
"resolve":{"axis":{"x":"independent","y":"independent"}}},
{"width":183,"height":309,"transform":[{"filter":"datum.axis=='y'&&datum.bpm==5"}],"layer":[
{"mark":"line","encoding":{"x":{"field":"step","type":"quantitative","scale":{"domain":[-4.95,103.95],"nice":false,"zero":false},"axis":{"orient":"bottom","title":null,"values":[0,20,40,60,80,100],"tickSize":{"condition":{"test":"datum.value==0||datum.value==100","value":-14},"value":-7},"labelExpr":"datum.value==0||datum.value==100?datum.label:''","labelPadding":24,"labelFlush":false,"labelOverlap":false}},"y":{"field":"rmse","type":"quantitative","scale":{"type":"log","domain":[0.00000624,2.74],"nice":false},"axis":{"orient":"left","title":null,"values":[1,0.01,0.0001],"tickSize":-14,"labels":false}}}},
{"mark":{"type":"line","opacity":0},"encoding":{"x":{"field":"step","type":"quantitative","scale":{"domain":[-4.95,103.95],"nice":false,"zero":false},"axis":{"orient":"top","title":null,"values":[0,20,40,60,80,100],"tickSize":{"condition":{"test":"datum.value==0||datum.value==100","value":-14},"value":-7},"labels":false}},"y":{"field":"rmse","type":"quantitative","scale":{"type":"log","domain":[0.00000624,2.74],"nice":false},"axis":{"orient":"right","title":null,"values":[1,0.01,0.0001],"tickSize":-14,"labels":false}}}}],
"resolve":{"axis":{"x":"independent","y":"independent"}}},
{"width":183,"height":309,"transform":[{"filter":"datum.axis=='y'&&datum.bpm==6"}],"layer":[
{"mark":"line","encoding":{"x":{"field":"step","type":"quantitative","scale":{"domain":[-4.95,103.95],"nice":false,"zero":false},"axis":{"orient":"bottom","title":null,"values":[0,20,40,60,80,100],"tickSize":{"condition":{"test":"datum.value==0||datum.value==100","value":-14},"value":-7},"labelExpr":"datum.value==0||datum.value==100?datum.label:''","labelPadding":24,"labelFlush":false,"labelOverlap":false}},"y":{"field":"rmse","type":"quantitative","scale":{"type":"log","domain":[0.00000624,2.74],"nice":false},"axis":{"orient":"left","title":null,"values":[1,0.01,0.0001],"tickSize":-14,"labels":false}}}},
{"mark":{"type":"line","opacity":0},"encoding":{"x":{"field":"step","type":"quantitative","scale":{"domain":[-4.95,103.95],"nice":false,"zero":false},"axis":{"orient":"top","title":null,"values":[0,20,40,60,80,100],"tickSize":{"condition":{"test":"datum.value==0||datum.value==100","value":-14},"value":-7},"labels":false}},"y":{"field":"rmse","type":"quantitative","scale":{"type":"log","domain":[0.00000624,2.74],"nice":false},"axis":{"orient":"right","title":null,"values":[1,0.01,0.0001],"tickSize":-14,"labels":false}}}}],
"resolve":{"axis":{"x":"independent","y":"independent"}}},
{"width":183,"height":309,"transform":[{"filter":"datum.axis=='y'&&datum.bpm==7"}],"layer":[
{"mark":"line","encoding":{"x":{"field":"step","type":"quantitative","scale":{"domain":[-4.95,103.95],"nice":false,"zero":false},"axis":{"orient":"bottom","title":null,"values":[0,20,40,60,80,100],"tickSize":{"condition":{"test":"datum.value==0||datum.value==100","value":-14},"value":-7},"labelExpr":"datum.value==0||datum.value==100?datum.label:''","labelPadding":24,"labelFlush":false,"labelOverlap":false}},"y":{"field":"rmse","type":"quantitative","scale":{"type":"log","domain":[0.00000624,2.74],"nice":false},"axis":{"orient":"left","title":null,"values":[1,0.01,0.0001],"tickSize":-14,"labels":false}}}},
{"mark":{"type":"line","opacity":0},"encoding":{"x":{"field":"step","type":"quantitative","scale":{"domain":[-4.95,103.95],"nice":false,"zero":false},"axis":{"orient":"top","title":null,"values":[0,20,40,60,80,100],"tickSize":{"condition":{"test":"datum.value==0||datum.value==100","value":-14},"value":-7},"labels":false}},"y":{"field":"rmse","type":"quantitative","scale":{"type":"log","domain":[0.00000624,2.74],"nice":false},"axis":{"orient":"right","title":null,"values":[1,0.01,0.0001],"tickSize":-14,"labels":false}}}}],
"resolve":{"axis":{"x":"independent","y":"independent"}}},
{"width":183,"height":309,"transform":[{"filter":"datum.axis=='y'&&datum.bpm==8"}],"layer":[
{"mark":"line","encoding":{"x":{"field":"step","type":"quantitative","scale":{"domain":[-4.95,103.95],"nice":false,"zero":false},"axis":{"orient":"bottom","title":null,"values":[0,20,40,60,80,100],"tickSize":{"condition":{"test":"datum.value==0||datum.value==100","value":-14},"value":-7},"labelExpr":"datum.value==0||datum.value==100?datum.label:''","labelPadding":24,"labelFlush":false,"labelOverlap":false}},"y":{"field":"rmse","type":"quantitative","scale":{"type":"log","domain":[0.00000624,2.74],"nice":false},"axis":{"orient":"left","title":null,"values":[1,0.01,0.0001],"tickSize":-14,"labels":false}}}},
{"mark":{"type":"line","opacity":0},"encoding":{"x":{"field":"step","type":"quantitative","scale":{"domain":[-4.95,103.95],"nice":false,"zero":false},"axis":{"orient":"top","title":null,"values":[0,20,40,60,80,100],"tickSize":{"condition":{"test":"datum.value==0||datum.value==100","value":-14},"value":-7},"labels":false}},"y":{"field":"rmse","type":"quantitative","scale":{"type":"log","domain":[0.00000624,2.74],"nice":false},"axis":{"orient":"right","title":null,"values":[1,0.01,0.0001],"tickSize":-14,"labels":false}}}}],
"resolve":{"axis":{"x":"independent","y":"independent"}}},
{"width":183,"height":309,"transform":[{"filter":"datum.axis=='y'&&datum.bpm==9"}],"layer":[
{"mark":"line","encoding":{"x":{"field":"step","type":"quantitative","scale":{"domain":[-4.95,103.95],"nice":false,"zero":false},"axis":{"orient":"bottom","title":null,"values":[0,20,40,60,80,100],"tickSize":{"condition":{"test":"datum.value==0||datum.value==100","value":-14},"value":-7},"labelExpr":"datum.value==0||datum.value==100?datum.label:''","labelPadding":24,"labelFlush":false,"labelOverlap":false}},"y":{"field":"rmse","type":"quantitative","scale":{"type":"log","domain":[0.00000624,2.74],"nice":false},"axis":{"orient":"left","title":null,"values":[1,0.01,0.0001],"tickSize":-14,"labels":false}}}},
{"mark":{"type":"line","opacity":0},"encoding":{"x":{"field":"step","type":"quantitative","scale":{"domain":[-4.95,103.95],"nice":false,"zero":false},"axis":{"orient":"top","title":null,"values":[0,20,40,60,80,100],"tickSize":{"condition":{"test":"datum.value==0||datum.value==100","value":-14},"value":-7},"labels":false}},"y":{"field":"rmse","type":"quantitative","scale":{"type":"log","domain":[0.00000624,2.74],"nice":false},"axis":{"orient":"right","title":null,"values":[1,0.01,0.0001],"tickSize":-14,"labels":false}}}}],
"resolve":{"axis":{"x":"independent","y":"independent"}}},
{"width":183,"height":309,"transform":[{"filter":"datum.axis=='y'&&datum.bpm==10"}],"layer":[
{"mark":"line","encoding":{"x":{"field":"step","type":"quantitative","scale":{"domain":[-4.95,103.95],"nice":false,"zero":false},"axis":{"orient":"bottom","title":null,"values":[0,20,40,60,80,100],"tickSize":{"condition":{"test":"datum.value==0||datum.value==100","value":-14},"value":-7},"labelExpr":"datum.value==0||datum.value==100?datum.label:''","labelPadding":24,"labelFlush":false,"labelOverlap":false}},"y":{"field":"rmse","type":"quantitative","scale":{"type":"log","domain":[0.00000624,2.74],"nice":false},"axis":{"orient":"left","title":null,"values":[1,0.01,0.0001],"tickSize":-14,"labels":false}}}},
{"mark":{"type":"line","opacity":0},"encoding":{"x":{"field":"step","type":"quantitative","scale":{"domain":[-4.95,103.95],"nice":false,"zero":false},"axis":{"orient":"top","title":null,"values":[0,20,40,60,80,100],"tickSize":{"condition":{"test":"datum.value==0||datum.value==100","value":-14},"value":-7},"labels":false}},"y":{"field":"rmse","type":"quantitative","scale":{"type":"log","domain":[0.00000624,2.74],"nice":false},"axis":{"orient":"right","title":null,"values":[1,0.01,0.0001],"tickSize":-14,"labels":false}}}}],
"resolve":{"axis":{"x":"independent","y":"independent"}}}
],
"config": {
"view": {"stroke": "black", "strokeWidth": 2.5},
"axis": {"domain": false, "grid": false, "ticks": true, "tickColor": "black", "tickWidth": 2.5, "labelFont": "Liberation Serif", "labelFontSize": 38, "labelColor": "black", "titleFont": "Liberation Serif", "titleFontSize": 44, "titleColor": "black", "titleFontWeight": "normal"},
"title": {"font": "Liberation Serif", "fontSize": 48, "fontWeight": "normal", "color": "black", "anchor": "middle", "baseline": "alphabetic", "offset": 14, "frame": "group"},
"line": {"color": "black", "strokeWidth": 4.5}
}
}
